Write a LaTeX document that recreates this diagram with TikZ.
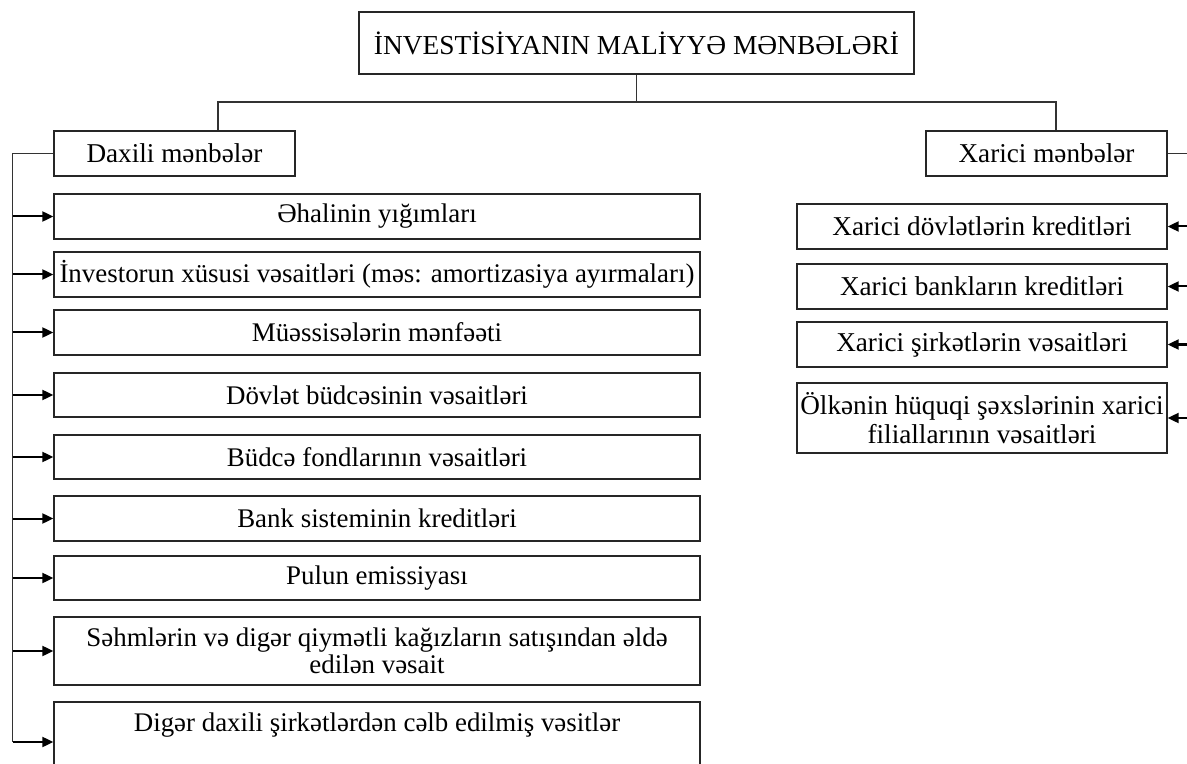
\documentclass[tikz,border=0pt]{standalone}
\usepackage{fontspec}
\setmainfont{Liberation Serif}
\usetikzlibrary{arrows.meta}
\begin{document}
\begin{tikzpicture}[x=0.5pt,y=-0.5pt,
  box/.style={draw=black!85, line width=0.65pt, inner sep=0pt, align=center,
    font=\fontsize{13.45}{12.2}\selectfont},
  lbox/.style={box, minimum width=323pt},
  rbox/.style={box, minimum width=185pt, font=\fontsize{13.6}{14.2}\selectfont},
  txt/.style={inner sep=0pt, font=\fontsize{13.45}{12.2}\selectfont},
  tree/.style={draw=black!80, line width=0.6pt},
  arr/.style={draw=black, line width=1pt, -{Triangle[length=5.5pt,width=5pt]}},
]
\useasboundingbox (0,0) rectangle (1187,764);

% title
\node[box, minimum width=277.5pt, minimum height=31pt, font=\fontsize{13.7}{16}\selectfont] (title) at (636.5,43) {İNVESTİSİYANIN MALİYYƏ MƏNBƏLƏRİ};

% level 2
\node[box, minimum width=120.5pt, minimum height=22.5pt, font=\fontsize{13.6}{14}\selectfont] (dax) at (174.5,153.5) {Daxili mənbələr};
\node[box, minimum width=120.5pt, minimum height=22.5pt, font=\fontsize{13.6}{14}\selectfont] (xar) at (1046.5,153.5) {Xarici mənbələr};

\coordinate (hl) at (218,102);
\coordinate (hr) at (1056,102);
\draw[tree] (title.south) -- (title.south |- hl);
\draw[tree] (dax.north -| hl) -- (hl) -- (hr) -- (xar.north -| hr);

% left column
\node[lbox, minimum height=22.5pt] (b1) at (377,216.5) {Əhalinin yığımları};
\node[lbox, minimum height=22.5pt] (b2) at (377,274.5) {İnvestorun xüsusi vəsaitləri (məs: amortizasiya ayırmaları)};
\node[lbox, minimum height=22.5pt] (b3) at (377,332.5) {Müəssisələrin mənfəəti};
\node[lbox, minimum height=22pt] (b4) at (377,395) {Dövlət büdcəsinin vəsaitləri};
\node[lbox, minimum height=22pt] (b5) at (377,457) {Büdcə fondlarının vəsaitləri};
\node[lbox, minimum height=22.5pt] (b6) at (377,518.5) {Bank sisteminin kreditləri};
\node[lbox, minimum height=22pt] (b7) at (377,578) {Pulun emissiyası};
\node[lbox, minimum height=34pt] (b8) at (377,651) {Səhmlərin və digər qiymətli kağızların satışından əldə\\edilən vəsait};
\node[lbox, minimum height=40pt] (b9) at (377,742) {};
\node[txt, anchor=base] (b9t) at (377,731) {Digər daxili şirkətlərdən cəlb edilmiş vəsitlər};

\coordinate (lx) at (12.5,0);
\draw[tree] (dax.west) -- (dax.west -| lx) -- (b9.west -| lx);
\foreach \b in {b1,b2,b3,b4,b5,b6,b7,b8,b9}
  \draw[arr] (\b.west -| lx) -- (\b.west);

% right column
\node[rbox, minimum height=22.5pt] (r1) at (982,226.5) {Xarici dövlətlərin kreditləri};
\node[rbox, minimum height=22.5pt] (r2) at (982,286.5) {Xarici bankların kreditləri};
\node[rbox, minimum height=22.5pt] (r3) at (982,344.5) {Xarici şirkətlərin vəsaitləri};
\node[rbox, minimum height=35pt] (r4) at (982,418) {Ölkənin hüquqi şəxslərinin xarici\\filiallarının vəsaitləri};

\coordinate (rx) at (1188.5,0);
\draw[tree] (xar.east) -- (xar.east -| rx) -- (r4.east -| rx);
\foreach \r in {r1,r2,r3,r4}
  \draw[arr] (\r.east -| rx) -- (\r.east);
\end{tikzpicture}
\end{document}
